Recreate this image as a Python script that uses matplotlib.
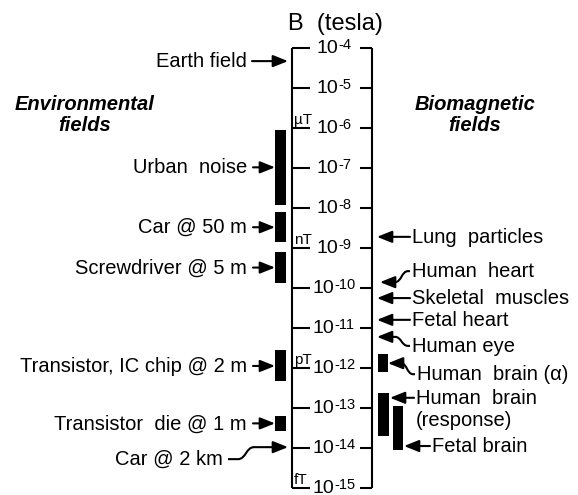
import numpy as np
import matplotlib.pyplot as plt
from matplotlib.patches import PathPatch
from matplotlib.path import Path

plt.rcParams['font.family'] = ['Liberation Sans', 'DejaVu Sans']

# field scale in tesla, one tick per decade
decades = np.arange(-4, -16, -1)
unit_decades = [-6, -9, -12, -15]
unit_names = ['\u00b5T', 'nT', 'pT', 'fT']

# environmental sources shown as ranges (left side)
env_labels = ['Urban  noise', 'Car @ 50 m', 'Screwdriver @ 5 m',
              'Transistor, IC chip @ 2 m', 'Transistor  die @ 1 m']
env_top = [9.0e-7, 7.8e-9, 7.9e-10, 2.75e-12, 6.3e-14]
env_bottom = [1.2e-8, 1.4e-9, 1.33e-10, 4.6e-13, 2.7e-14]

# single environmental values
earth_field = 4.7e-5
car_2km = 1.05e-14

# biomagnetic point values (right side)
bio_labels = ['Lung  particles', 'Human  heart', 'Skeletal  muscles',
              'Fetal heart', 'Human eye']
bio_values = [1.9e-9, 1.4e-10, 5.6e-11, 1.6e-11, 6.0e-12]

# brain signals shown as ranges
brain_labels = ['Human  brain (\u03b1)', 'Human  brain\n(response)', 'Fetal brain']
brain_top = [2.2e-12, 2.4e-13, 1.1e-13]
brain_bottom = [7.9e-13, 2.0e-14, 8.9e-15]

FS = 14.5
PX_PER_DECADE = 40.0
ARROW = dict(arrowstyle='-|>,head_length=0.75,head_width=0.3', mutation_scale=12,
             lw=1.5, color='black', shrinkA=0, shrinkB=0)


def up(val, px):
    # move a value up (or down) by a number of pixels on the log axis
    return val * 10 ** (px / PX_PER_DECADE)


def arrow(ax, x_from, x_to, y):
    ax.annotate('', xy=(x_to, y), xytext=(x_from, y), arrowprops=ARROW)


def bent(ax, x_tail, y_tail, x_join, y_tip, x_tip, lead=0):
    # S-shaped lead from the label down/up to the arrow shaft
    xs = x_tail + lead
    xm = (xs + x_join) / 2.0
    verts = [(x_tail, y_tail), (xs, y_tail), (xm, y_tail), (xm, y_tip), (x_join, y_tip)]
    codes = [Path.MOVETO, Path.LINETO, Path.CURVE4, Path.CURVE4, Path.CURVE4]
    ax.add_patch(PathPatch(Path(verts, codes), fill=False, lw=1.5,
                           edgecolor='black', capstyle='butt'))
    arrow(ax, x_join, x_tip, y_tip)


def label(ax, x, val, text, ha='left', dy=0):
    for i, line in enumerate(text.split('\n')):
        ax.annotate(line, xy=(x, val), xytext=(0, dy - 6 - 22 * i),
                    textcoords='offset pixels', ha=ha, va='baseline',
                    fontsize=FS)


fig = plt.figure(figsize=(5.78, 4.95), dpi=100)
ax = fig.add_axes([0, 0, 1, 1])
ax.set_yscale('log')
ax.set_xlim(0, 578)
ax.set_ylim(10 ** (-4 - (495 - 48) / PX_PER_DECADE), 10 ** (-4 + 48 / PX_PER_DECADE))
ax.axis('off')

# the scale: two rails with ticks at every decade
vals = 10.0 ** decades
ax.vlines([292, 372], vals[-1], vals[0], color='black', lw=1.5)
ax.hlines(vals, 292, 310, color='black', lw=1.5)
ax.hlines(vals, 360, 372, color='black', lw=1.5)

fs_px = 14 * 100 / 72.0
fs_exp = 10.5
exp_px = fs_exp * 100 / 72.0
for d, v in zip(decades, vals):
    exp = '-%d' % (-d)
    w10 = 2 * 0.556 * fs_px
    wexp = (0.333 + 0.556 * (len(exp) - 1)) * exp_px
    x0 = 334 - (w10 + wexp + 1) / 2
    ax.annotate('10', xy=(x0, v), xytext=(0, -5), textcoords='offset pixels',
                ha='left', va='baseline', fontsize=14)
    ax.annotate(exp, xy=(x0 + w10 + 1, v), xytext=(0, -1),
                textcoords='offset pixels', ha='left', va='baseline',
                fontsize=fs_exp)

for d, u in zip(unit_decades, unit_names):
    ax.annotate(u, xy=(294, 10.0 ** d), xytext=(0, 1), textcoords='offset pixels',
                ha='left', va='bottom', fontsize=11)

# environmental fields
env_top = np.array(env_top)
env_bottom = np.array(env_bottom)
ax.bar(280.5, env_top - env_bottom, bottom=env_bottom, width=11, color='black')
for lab, t, b in zip(env_labels, env_top, env_bottom):
    mid = np.sqrt(t * b)
    label(ax, 247, mid, lab, ha='right')
    arrow(ax, 253, 275, mid)

label(ax, 247, earth_field, 'Earth field', ha='right')
arrow(ax, 252, 288, earth_field)

label(ax, 223, car_2km, 'Car @ 2 km', ha='right', dy=-12)
bent(ax, 228, up(car_2km, -12), 254, car_2km, 288, lead=10)

# biomagnetic fields
text_shift = [0, 11, 0, 0, -9]
tips = [377, 380, 377, 377, 377]
for lab, v, s, xt in zip(bio_labels, bio_values, text_shift, tips):
    label(ax, 412, v, lab, dy=s)
    if s == 0:
        arrow(ax, 410, xt, v)
    else:
        bent(ax, 410, up(v, s), 395, v, xt, lead=-2)

brain_top = np.array(brain_top)
brain_bottom = np.array(brain_bottom)
ax.bar([383, 383.5, 398], brain_top - brain_bottom, bottom=brain_bottom,
       width=[10, 11, 10], color='black')

alpha_v = np.sqrt(brain_top[0] * brain_bottom[0])
label(ax, 417, alpha_v, brain_labels[0], dy=-11)
bent(ax, 415, up(alpha_v, -11), 401, alpha_v, 388, lead=-2)

resp_v = up(brain_top[1], -5)
label(ax, 416, resp_v, brain_labels[1])
arrow(ax, 414, 390, resp_v)

fetal_v = up(brain_bottom[2], 4)
label(ax, 432, fetal_v, brain_labels[2])
arrow(ax, 430, 404, fetal_v)

# headings
fig.text(335 / 578, 1 - 30 / 495, 'B  (tesla)', ha='center', va='baseline',
         fontsize=17)
for x, words in [(85, ['Environmental', 'fields']), (475, ['Biomagnetic', 'fields'])]:
    for row, w in zip([110, 131], words):
        fig.text(x / 578, 1 - row / 495, w, ha='center', va='baseline',
                 fontsize=14.5, fontweight='bold', fontstyle='italic')

fig.savefig('out.png', dpi=100)
